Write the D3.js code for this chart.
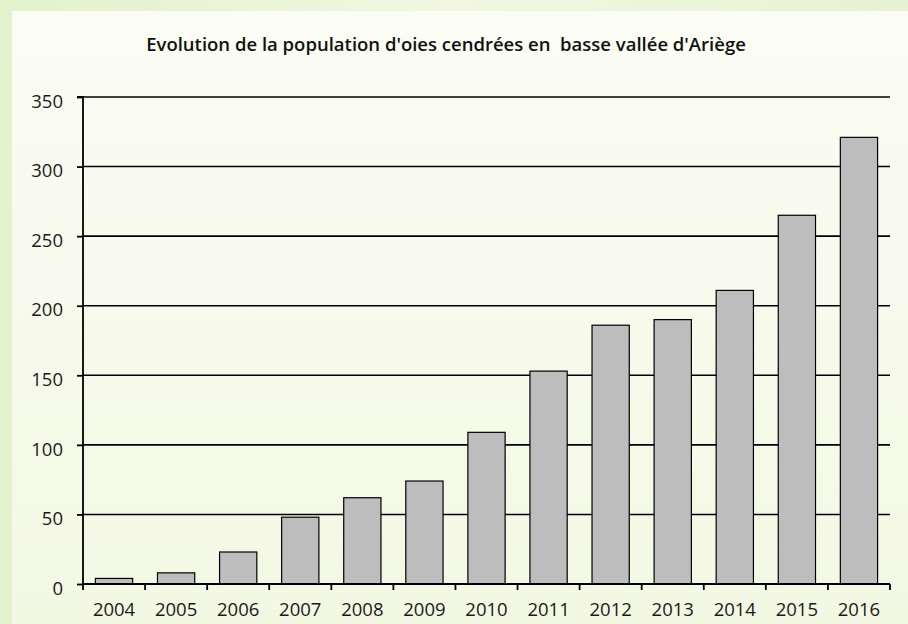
<!DOCTYPE html>
<html>
<head>
<meta charset="utf-8">
<script src="https://cdn.jsdelivr.net/npm/d3@7"></script>
<style>
  html, body { margin: 0; padding: 0; background: #eaf5d8; }
  svg { display: block; }
</style>
</head>
<body>
<div id="chart"></div>
<script>
const years = ["2004", "2005", "2006", "2007", "2008", "2009", "2010",
               "2011", "2012", "2013", "2014", "2015", "2016"];
const geese = [4, 8, 23, 48, 62, 74, 109, 153, 186, 190, 211, 265, 321];
const yTicks = [0, 50, 100, 150, 200, 250, 300, 350];
const title = "Evolution de la population d'oies cendrées en  basse vallée d'Ariège";

const width = 908, height = 624;
const margin = {top: 97, right: 18, bottom: 40, left: 83};

const svg = d3.select("#chart").append("svg")
    .attr("width", width)
    .attr("height", height);

// background: green frame + pale inner panel
const defs = svg.append("defs");
const outer = defs.append("linearGradient").attr("id", "outerGrad")
    .attr("x1", 0).attr("x2", 1).attr("y1", 0).attr("y2", 0);
outer.append("stop").attr("offset", "0%").attr("stop-color", "#e2f2cd");
outer.append("stop").attr("offset", "50%").attr("stop-color", "#f1f7e0");
outer.append("stop").attr("offset", "100%").attr("stop-color", "#e6f3d3");

const inner = defs.append("linearGradient").attr("id", "innerGrad")
    .attr("x1", 0).attr("x2", 0).attr("y1", 0).attr("y2", 1);
inner.append("stop").attr("offset", "0%").attr("stop-color", "#fbfcf4");
inner.append("stop").attr("offset", "100%").attr("stop-color", "#f3f8e3");

svg.append("rect")
    .attr("width", width).attr("height", height)
    .attr("fill", "url(#outerGrad)");
svg.append("rect")
    .attr("x", 12).attr("y", 11)
    .attr("width", width - 12).attr("height", height - 11)
    .attr("fill", "url(#innerGrad)");

svg.append("text")
    .attr("x", 446)
    .attr("y", 51)
    .attr("text-anchor", "middle")
    .style("font-family", "'Open Sans', sans-serif")
    .style("font-weight", 600)
    .style("font-size", "18.5px")
    .style("white-space", "pre")
    .style("fill", "#111")
    .text(title);

const x = d3.scaleBand()
    .domain(years)
    .range([margin.left, width - margin.right])
    .paddingInner(0.4)
    .paddingOuter(0.2);

const y = d3.scaleLinear()
    .domain([0, 350])
    .range([height - margin.bottom, margin.top]);

// gridlines
svg.append("g")
    .selectAll("line")
    .data(yTicks.slice(1))
    .join("line")
    .attr("x1", margin.left)
    .attr("x2", width - margin.right)
    .attr("y1", d => y(d))
    .attr("y2", d => y(d))
    .attr("stroke", "#000")
    .attr("stroke-width", 1.6);

// bars
svg.append("g")
    .selectAll("rect")
    .data(geese)
    .join("rect")
    .attr("x", (d, i) => x(years[i]))
    .attr("y", d => y(d))
    .attr("width", x.bandwidth())
    .attr("height", d => y(0) - y(d))
    .attr("fill", "#bdbdbd")
    .attr("stroke", "#000")
    .attr("stroke-width", 1.2);

// y axis
const yAxis = svg.append("g")
    .attr("transform", `translate(${margin.left},0)`)
    .call(d3.axisLeft(y).tickValues(yTicks).tickSize(6).tickPadding(14));

// x axis: ticks at band boundaries
const boundaries = d3.range(years.length + 1).map(i => margin.left + i * (width - margin.left - margin.right) / years.length);
const xAxis = svg.append("g");
xAxis.append("line")
    .attr("x1", margin.left).attr("x2", width - margin.right)
    .attr("y1", y(0)).attr("y2", y(0))
    .attr("stroke", "#000").attr("stroke-width", 1.8);
xAxis.selectAll("line.tick")
    .data(boundaries)
    .join("line")
    .attr("class", "tick")
    .attr("x1", d => d).attr("x2", d => d)
    .attr("y1", y(0)).attr("y2", y(0) + 6)
    .attr("stroke", "#000").attr("stroke-width", 1.8);
xAxis.selectAll("text")
    .data(years)
    .join("text")
    .attr("x", d => x(d) + x.bandwidth() / 2)
    .attr("y", y(0) + 32)
    .attr("text-anchor", "middle")
    .style("font-family", "'Open Sans', sans-serif")
    .style("font-size", "18.5px")
    .style("fill", "#1a1a1a")
    .text(d => d);

yAxis.select(".domain")
    .attr("stroke", "#000")
    .attr("stroke-width", 1.8)
    .attr("d", `M-6,${y(350)}H0V${y(0)}`);
yAxis.selectAll(".tick line").attr("stroke", "#000").attr("stroke-width", 1.8);
yAxis.selectAll(".tick text")
    .attr("dy", "0.55em")
    .style("font-family", "'Open Sans', sans-serif")
    .style("font-size", "18.5px")
    .style("fill", "#1a1a1a");
</script>
</body>
</html>
